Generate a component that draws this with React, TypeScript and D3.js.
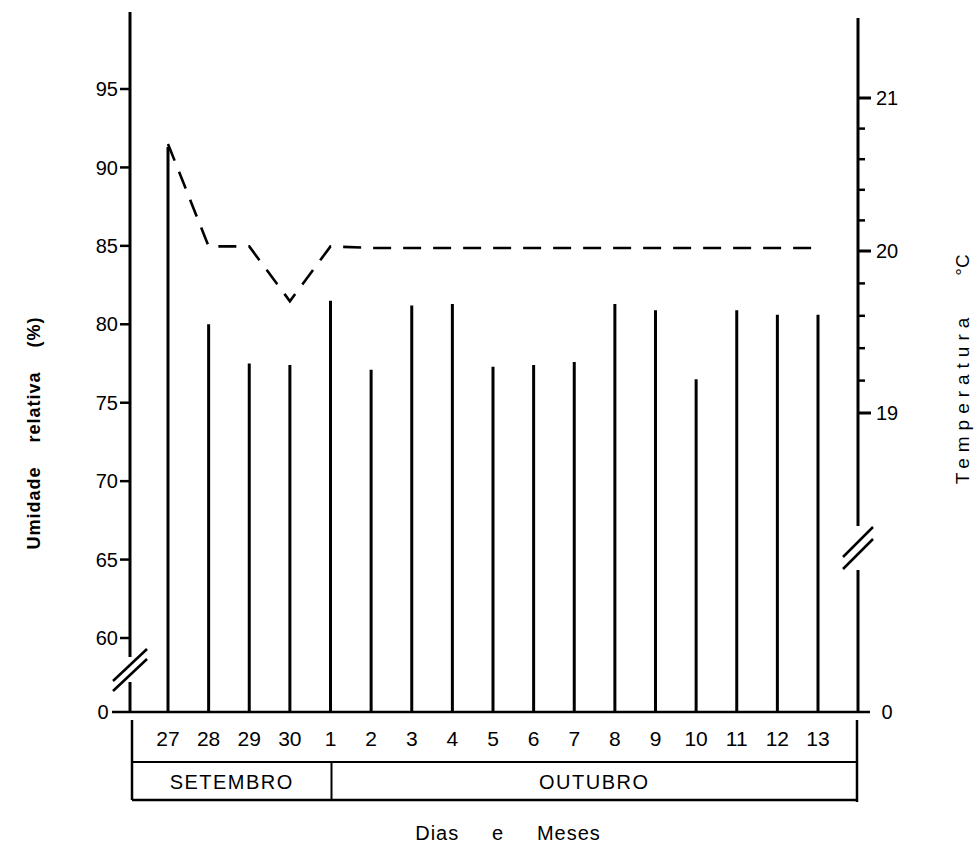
import { useEffect, useRef } from 'react';
import * as d3 from 'd3';

// Dias (27-30 setembro, 1-13 outubro)
const days = ['27', '28', '29', '30', '1', '2', '3', '4', '5', '6', '7', '8', '9', '10', '11', '12', '13'];
// Umidade relativa (%) - barras
const humidity = [91.3, 80.0, 77.5, 77.4, 81.5, 77.1, 81.2, 81.3, 77.3, 77.4, 77.6, 81.3, 80.9, 76.5, 80.9, 80.6, 80.6];
// Temperatura (°C) - linha tracejada
const temperature = [20.7, 20.03, 20.03, 19.69, 20.03, 20.02, 20.02, 20.02, 20.02, 20.02, 20.02, 20.02, 20.02, 20.02, 20.02, 20.02, 20.02];
const monthNames = ['SETEMBRO', 'OUTUBRO'];
const monthFirstDay = ['27', '1'];
const humidityTicks = [60, 65, 70, 75, 80, 85, 90, 95];
const tempTicks = [19, 20, 21];

const W = 979;
const H = 848;
const FONT = '"Liberation Sans", Arial, sans-serif';

export default function App() {
  const svgRef = useRef<SVGSVGElement>(null);

  useEffect(() => {
    const svg = d3.select(svgRef.current);
    svg.selectAll('*').remove();

    const x = d3.scalePoint<string>().domain(days).range([168, 818]);
    // broken scales: 0 is drawn below the break
    const yL = d3.scaleLinear().domain([0, 60, 95]).range([712, 638, 89]);
    const yR = d3.scaleLinear().domain([0, 19, 20, 21]).range([712, 413, 251, 98]);

    const axL = 130;
    const axR = 858;
    const base = yL(0);

    const g = svg.append('g').attr('stroke', '#000').attr('fill', 'none').attr('stroke-linecap', 'butt');

    // left axis with break
    const brkL = (yL(0) + yL(60)) / 2 - 5;
    g.append('line').attr('x1', axL).attr('x2', axL).attr('y1', 12).attr('y2', brkL - 13).attr('stroke-width', 3);
    g.append('line').attr('x1', axL).attr('x2', axL).attr('y1', brkL + 12).attr('y2', base).attr('stroke-width', 3);
    [-5, 5].forEach(o => {
      g.append('line')
        .attr('x1', axL - 17).attr('y1', brkL + o + 16)
        .attr('x2', axL + 17).attr('y2', brkL + o - 16)
        .attr('stroke-width', 2.5);
    });

    // right axis with break
    const brkR = 548;
    g.append('line').attr('x1', axR).attr('x2', axR).attr('y1', 18).attr('y2', brkR - 22).attr('stroke-width', 3);
    g.append('line').attr('x1', axR).attr('x2', axR).attr('y1', brkR + 22).attr('y2', base).attr('stroke-width', 3);
    [-6, 6].forEach(o => {
      g.append('line')
        .attr('x1', axR - 15).attr('y1', brkR + o + 15)
        .attr('x2', axR + 15).attr('y2', brkR + o - 15)
        .attr('stroke-width', 2.5);
    });

    // bottom axis
    g.append('line').attr('x1', 112).attr('x2', 870).attr('y1', base).attr('y2', base).attr('stroke-width', 2.5);

    // left ticks
    humidityTicks.forEach(t => {
      g.append('line').attr('x1', axL - 10).attr('x2', axL).attr('y1', yL(t)).attr('y2', yL(t)).attr('stroke-width', 2.5);
    });

    // right ticks (major + minor)
    d3.range(95, 106).map(i => i / 5).forEach(t => {
      const major = Number.isInteger(t);
      g.append('line')
        .attr('x1', axR).attr('x2', axR + (major ? 13 : 7))
        .attr('y1', yR(t)).attr('y2', yR(t))
        .attr('stroke-width', major ? 3 : 2.5);
    });

    // humidity bars
    g.selectAll('.bar')
      .data(days)
      .enter()
      .append('line')
      .attr('class', 'bar')
      .attr('x1', d => x(d)!)
      .attr('x2', d => x(d)!)
      .attr('y1', base)
      .attr('y2', (d, i) => yL(humidity[i]))
      .attr('stroke-width', 3);

    // temperature dashed line
    const line = d3.line<string>()
      .x(d => x(d)!)
      .y((d, i) => yR(temperature[i]));
    g.append('path')
      .datum(days)
      .attr('d', line)
      .attr('stroke-width', 2.6)
      .attr('stroke-dasharray', '18 12')
      .attr('stroke-linejoin', 'miter');

    // table below axis
    const tTop = 720;
    const tMid = 762;
    const tBot = 800;
    g.append('line').attr('x1', axL + 2).attr('x2', axL + 2).attr('y1', tTop).attr('y2', tBot).attr('stroke-width', 2.5);
    g.append('line').attr('x1', axR - 1).attr('x2', axR - 1).attr('y1', tTop).attr('y2', tBot + 2).attr('stroke-width', 2.5);
    g.append('line').attr('x1', axL + 2).attr('x2', axR - 1).attr('y1', tMid).attr('y2', tMid).attr('stroke-width', 2);
    g.append('line').attr('x1', axL + 2).attr('x2', axR - 1).attr('y1', tBot).attr('y2', tBot).attr('stroke-width', 2.5);
    const divX = x(monthFirstDay[1])! + 1;
    g.append('line').attr('x1', divX).attr('x2', divX).attr('y1', tMid).attr('y2', tBot).attr('stroke-width', 2);

    const txt = svg.append('g').attr('fill', '#000').attr('font-family', FONT);

    // left tick labels
    humidityTicks.forEach(t => {
      txt.append('text').attr('x', axL - 12).attr('y', yL(t)).attr('dy', '0.36em')
        .attr('text-anchor', 'end').attr('font-size', 20).text(t);
    });
    txt.append('text').attr('x', 103).attr('y', base).attr('dy', '0.36em')
      .attr('text-anchor', 'middle').attr('font-size', 20).text('0');

    // right tick labels
    tempTicks.forEach(t => {
      txt.append('text').attr('x', axR + 18).attr('y', yR(t)).attr('dy', '0.36em')
        .attr('font-size', 20).text(t);
    });
    txt.append('text').attr('x', 887).attr('y', base).attr('dy', '0.36em')
      .attr('text-anchor', 'middle').attr('font-size', 20).text('0');

    // day labels
    days.forEach(d => {
      txt.append('text').attr('x', x(d)!).attr('y', (tTop + tMid) / 2 - 3).attr('dy', '0.36em')
        .attr('text-anchor', 'middle').attr('font-size', 21).text(d);
    });

    // month labels
    const monthEdges = [axL + 2, divX, axR - 1];
    monthNames.forEach((m, i) => {
      txt.append('text')
        .attr('x', (monthEdges[i] + monthEdges[i + 1]) / 2)
        .attr('y', (tMid + tBot) / 2 + 1).attr('dy', '0.36em')
        .attr('text-anchor', 'middle').attr('font-size', 20).attr('letter-spacing', 1.5).text(m);
    });

    // axis titles
    txt.append('text')
      .attr('transform', `translate(40,433) rotate(-90)`)
      .attr('text-anchor', 'middle').attr('font-size', 18).attr('font-weight', 'bold')
      .attr('letter-spacing', 1)
      .style('white-space', 'pre')
      .text('Umidade    relativa    (%)');

    txt.append('text')
      .attr('transform', `translate(969,265) rotate(-90)`)
      .attr('text-anchor', 'middle').attr('font-size', 19)
      .text('°C');
    txt.append('text')
      .attr('transform', `translate(969,398) rotate(-90)`)
      .attr('text-anchor', 'middle').attr('font-size', 19)
      .attr('letter-spacing', 6)
      .text('Temperatura');

    txt.append('text')
      .attr('x', 508).attr('y', 840)
      .attr('text-anchor', 'middle').attr('font-size', 20)
      .attr('letter-spacing', 1)
      .style('white-space', 'pre')
      .text('Dias     e     Meses');
  }, []);

  return (
    <div style={{ position: 'absolute', left: 0, top: 0, width: W, height: H, background: '#fff' }}>
      <svg ref={svgRef} width={W} height={H}></svg>
    </div>
  );
}
